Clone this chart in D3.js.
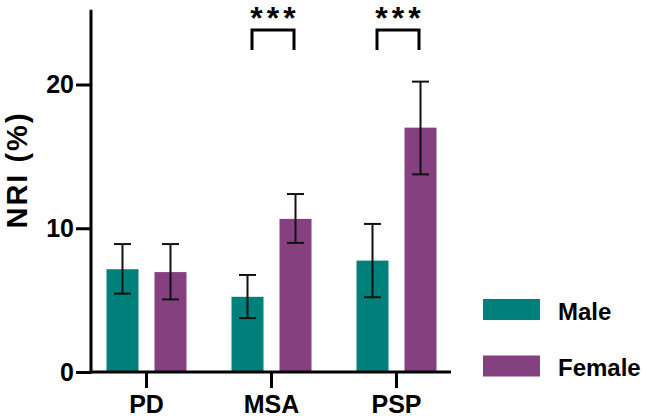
<!DOCTYPE html>
<html><head><meta charset="utf-8">
<script src="https://cdn.jsdelivr.net/npm/d3@7"></script>
<style>
html,body{margin:0;padding:0;background:#fff;}
svg{display:block;font-family:"Liberation Sans",Arial,Helvetica,sans-serif;font-weight:bold;}
</style></head>
<body><svg id="chart" width="645" height="419"></svg>
<script>
const categories = ["PD", "MSA", "PSP"];
const seriesNames = ["Male", "Female"];
const maleMean = [7.15, 5.23, 7.75];
const maleLow = [5.45, 3.75, 5.2];
const maleHigh = [8.9, 6.75, 10.3];
const femaleMean = [6.95, 10.65, 17.0];
const femaleLow = [5.05, 8.98, 13.75];
const femaleHigh = [8.9, 12.38, 20.2];
const yTicks = [0, 10, 20];
const significance = [{cat: "MSA", label: "***"}, {cat: "PSP", label: "***"}];

const colors = {Male: "#00807A", Female: "#85417F"};
const svg = d3.select("#chart");

const y = d3.scaleLinear().domain([0, 20]).range([372, 84.5]);
const yTop = 25.2;
const x0 = d3.scaleBand().domain(categories).range([84, 459]).padding(0);
const x1 = d3.scaleBand().domain(seriesNames).range([-40, 40]).paddingInner(1/3).paddingOuter(0);

const data = [];
categories.forEach((c, i) => {
  data.push({cat: c, s: "Male", v: maleMean[i], lo: maleLow[i], hi: maleHigh[i]});
  data.push({cat: c, s: "Female", v: femaleMean[i], lo: femaleLow[i], hi: femaleHigh[i]});
});
const cx = d => x0(d.cat) + x0.bandwidth() / 2;

// bars
svg.append("g").selectAll("rect").data(data).join("rect")
  .attr("x", d => cx(d) + x1(d.s))
  .attr("y", d => y(d.v))
  .attr("width", x1.bandwidth())
  .attr("height", d => y(0) - y(d.v))
  .attr("fill", d => colors[d.s]);

// error bars
const eg = svg.append("g").attr("stroke", "#111").attr("stroke-width", 2).attr("fill", "none");
data.forEach(d => {
  const mx = cx(d) + x1(d.s) + x1.bandwidth() / 2;
  eg.append("line").attr("x1", mx).attr("x2", mx).attr("y1", y(d.hi)).attr("y2", y(d.lo));
  eg.append("line").attr("x1", mx - 8.5).attr("x2", mx + 8.5).attr("y1", y(d.hi)).attr("y2", y(d.hi));
  eg.append("line").attr("x1", mx - 8.5).attr("x2", mx + 8.5).attr("y1", y(d.lo)).attr("y2", y(d.lo));
});

// y axis
const yAxis = svg.append("g").attr("transform", "translate(91,0)")
  .call(d3.axisLeft(y).tickValues(yTicks).tickSize(15).tickPadding(2));
yAxis.select(".domain").remove();
yAxis.selectAll(".tick line").attr("stroke", "#000").attr("stroke-width", 3);
yAxis.selectAll(".tick text").attr("font-size", 25).attr("font-weight", "bold")
  .attr("font-family", "Liberation Sans, Arial, sans-serif").attr("fill", "#000");
svg.append("line").attr("x1", 91).attr("x2", 91).attr("y1", y(yTop)).attr("y2", y(0) + 1.5)
  .attr("stroke", "#000").attr("stroke-width", 3);

// x axis
const xAxis = svg.append("g").attr("transform", `translate(0,${y(0)})`)
  .call(d3.axisBottom(x0).tickSize(16).tickPadding(7));
xAxis.select(".domain").remove();
xAxis.selectAll(".tick line").attr("stroke", "#000").attr("stroke-width", 3);
xAxis.selectAll(".tick text").attr("font-size", 25).attr("font-weight", "bold")
  .attr("font-family", "Liberation Sans, Arial, sans-serif").attr("fill", "#000");
svg.append("line").attr("x1", 89.5).attr("x2", 451).attr("y1", y(0)).attr("y2", y(0))
  .attr("stroke", "#000").attr("stroke-width", 3);

// y title
svg.append("text").attr("transform", `translate(27,170) rotate(-90)`)
  .attr("text-anchor", "middle").attr("font-size", 29).attr("letter-spacing", 2)
  .attr("fill", "#000").text("NRI (%)");

// significance
significance.forEach(s => {
  const c = x0(s.cat) + x0.bandwidth() / 2 + 1.5;
  svg.append("path").attr("d", `M${c-21},50V30H${c+21}V50`)
    .attr("stroke", "#000").attr("stroke-width", 3).attr("fill", "none");
  svg.append("text").attr("x", c + 2).attr("y", 29).attr("text-anchor", "middle")
    .attr("font-size", 32).attr("letter-spacing", 4).attr("fill", "#000").text(s.label);
});

// legend
const lg = svg.append("g");
seriesNames.forEach((s, i) => {
  const yy = 299 + i * 56.5;
  lg.append("rect").attr("x", 483).attr("y", yy).attr("width", 57).attr("height", 21).attr("fill", colors[s]);
  lg.append("text").attr("x", 558).attr("y", yy + 20.5).attr("font-size", 24).attr("fill", "#000").text(s);
});
</script></body></html>
